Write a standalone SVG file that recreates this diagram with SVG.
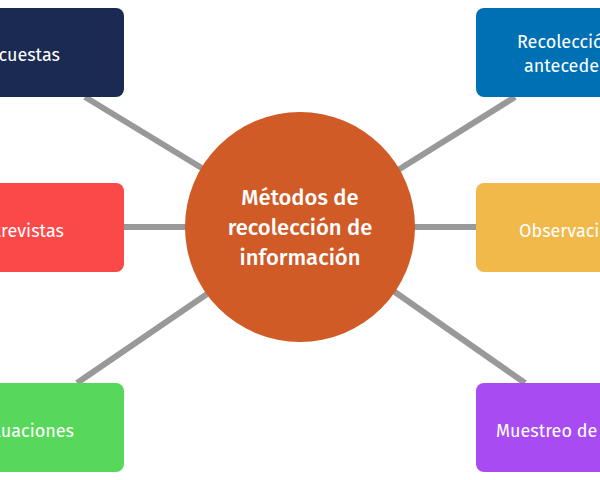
<svg xmlns="http://www.w3.org/2000/svg" width="600" height="480" viewBox="0 0 600 480">
<style>
.c{stroke:#999;stroke-width:6;fill:none}
.t{font-family:"Fira Sans","Open Sans","Noto Sans",sans-serif;font-size:18px;fill:#fff}
.m{font-family:"Fira Sans","Open Sans","Noto Sans",sans-serif;font-size:22px;font-weight:500;fill:#fff;text-anchor:middle}
</style>
<rect width="600" height="480" fill="#fff"/>
<g id="connectors">
<line class="c" x1="85" y1="97" x2="205" y2="170"/>
<line class="c" x1="124" y1="227" x2="186" y2="227"/>
<line class="c" x1="77" y1="383" x2="210" y2="292"/>
<line class="c" x1="515" y1="97" x2="398" y2="170"/>
<line class="c" x1="414" y1="227" x2="476" y2="227"/>
<line class="c" x1="525" y1="383" x2="392" y2="290"/>
</g>
<g id="n1"><rect x="-30" y="8" width="154" height="89" rx="8" fill="#1a2a52"/><text class="t" x="60" y="61" text-anchor="end">Encuestas</text></g>
<g id="n2"><rect x="-30" y="183" width="154" height="89" rx="8" fill="#fb4848"/><text class="t" x="64" y="237" text-anchor="end">Entrevistas</text></g>
<g id="n3"><rect x="-30" y="383" width="154" height="89" rx="8" fill="#57d85a"/><text class="t" x="74" y="437" text-anchor="end">Evaluaciones</text></g>
<g id="n4"><rect x="476" y="8" width="154" height="89" rx="8" fill="#0070b4"/><text class="t" x="517" y="48">Recolección de</text><text class="t" x="524" y="72">antecedentes</text></g>
<g id="n5"><rect x="476" y="183" width="154" height="89" rx="8" fill="#f1b84a"/><text class="t" x="519" y="237">Observación</text></g>
<g id="n6"><rect x="476" y="383" width="154" height="89" rx="8" fill="#a84bf2"/><text class="t" x="496" y="437">Muestreo de datos</text></g>
<g id="center"><ellipse cx="300" cy="227" rx="115" ry="115" fill="#d05b27"/>
<text class="m" x="300" y="205">Métodos de</text><text class="m" x="300" y="235">recolección de</text><text class="m" x="300" y="265">información</text></g>
</svg>
